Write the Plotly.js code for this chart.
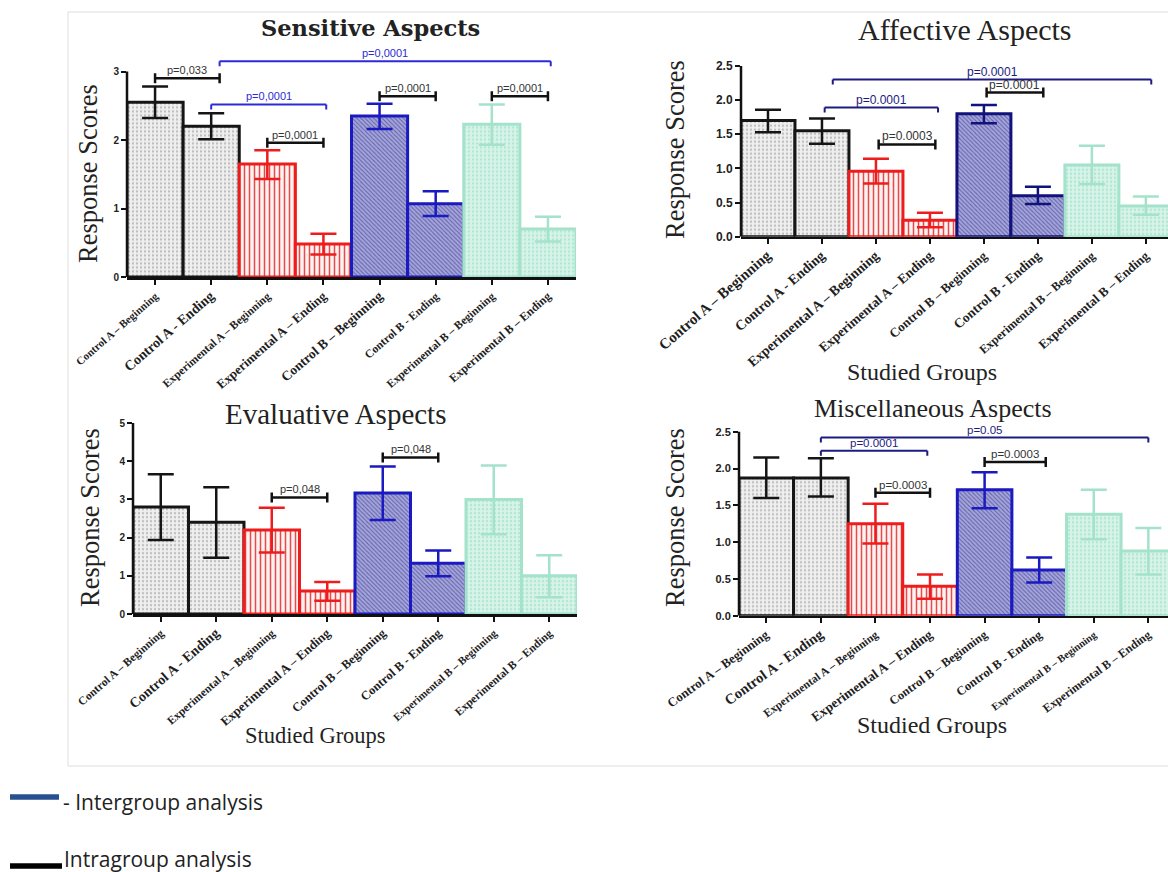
<!DOCTYPE html>
<html><head><meta charset="utf-8">
<script src="https://cdn.plot.ly/plotly-3.0.1.min.js"></script>
<style>body{margin:0;background:#fff}#chart{width:1168px;height:872px}</style>
</head><body><div id="chart"></div>
<script>
// ---------------- DATA ----------------
const categories = ["Control A – Beginning","Control A - Ending","Experimental A – Beginning","Experimental A – Ending","Control B – Beginning","Control B - Ending","Experimental B – Beginning","Experimental B – Ending"];

const sensitiveMeans = [2.55,2.20,1.65,0.48,2.35,1.07,2.23,0.70];
const sensitiveUpper = [2.78,2.39,1.85,0.63,2.53,1.25,2.52,0.88];
const sensitiveLower = [2.32,2.01,1.43,0.33,2.16,0.89,1.93,0.52];

const affectiveMeans = [1.70,1.55,0.96,0.24,1.80,0.60,1.05,0.45];
const affectiveUpper = [1.86,1.73,1.14,0.35,1.93,0.73,1.33,0.59];
const affectiveLower = [1.53,1.36,0.78,0.14,1.66,0.48,0.77,0.32];

const evaluativeMeans = [2.80,2.40,2.20,0.60,3.17,1.33,3.00,1.00];
const evaluativeUpper = [3.66,3.32,2.78,0.84,3.86,1.66,3.89,1.54];
const evaluativeLower = [1.94,1.47,1.61,0.35,2.46,0.99,2.09,0.44];

const miscMeans = [1.87,1.87,1.25,0.40,1.71,0.62,1.38,0.88];
const miscUpper = [2.15,2.14,1.52,0.56,1.95,0.79,1.71,1.19];
const miscLower = [1.60,1.62,0.98,0.23,1.46,0.45,1.04,0.56];

// brackets: [fromIndex, toIndex, yValue, label, kind]
const sensitiveBrackets = [
  [0, 1.15, 2.90, "p=0,033", "intra"],
  [1.15, 7.05, 3.15, "p=0,0001", "inter"],
  [1, 3.05, 2.52, "p=0,0001", "inter"],
  [2, 3, 1.96, "p=0,0001", "intra"],
  [4, 5, 2.64, "p=0,0001", "intra"],
  [6, 7, 2.64, "p=0,0001", "intra"]
];
const affectiveBrackets = [
  [1.2, 7.1, 2.30, "p=0.0001", "inter"],
  [1.05, 3.15, 1.89, "p=0.0001", "inter"],
  [2.05, 3.1, 1.35, "p=0.0003", "intra"],
  [4.05, 5.1, 2.11, "p=0.0001", "intra"]
];
const evaluativeBrackets = [
  [2, 3, 3.05, "p=0,048", "intra"],
  [4, 5, 4.10, "p=0,048", "intra"]
];
const miscBrackets = [
  [1, 7, 2.42, "p=0.05", "inter"],
  [1, 2.95, 2.24, "p=0.0001", "inter"],
  [2, 3, 1.67, "p=0.0003", "intra"],
  [4, 5.12, 2.09, "p=0.0003", "intra"]
];

const panelTitles = ["Sensitive Aspects","Affective Aspects","Evaluative Aspects","Miscellaneous Aspects"];
const yTitle = "Response Scores";
const xTitle = "Studied Groups";
const legendLabels = ["- Intergroup analysis","Intragroup analysis"];

// ---------------- LAYOUT CONFIG ----------------
const W = 1168, H = 872;
const px = x => x / W, py = y => 1 - y / H;

const tickSizes = [
  [11,14,11.5,13,13.5,11.5,11.5,12],
  [15,14,14,13.5,13,13.5,12.3,13],
  [11.5,14,11.5,13,12.5,12.5,11,11.5],
  [12.8,14.5,11.5,13.5,12.3,12.5,10.5,12]
];

const serif = 'Liberation Serif, Times New Roman, serif';
const sans = 'Liberation Sans, Arial, sans-serif';

const panels = [
  {means:sensitiveMeans, up:sensitiveUpper, lo:sensitiveLower, br:sensitiveBrackets,
   xpx:[127,576], xr:[-0.5,7.5], y0:277, unit:68.5, ytop:3.38, dtick:1, topTick:3, fmt:'d', tfs:10, angle:-41, pfs:11,
   blue:'#2b2bd6', cb:'#1a1ac0',
   title:{x:370,y:28,size:22.5,bold:true,family:'DejaVu Serif'}, ytl:{x:88,y:174,size:26.5}, xtl:null},
  {means:affectiveMeans, up:affectiveUpper, lo:affectiveLower, br:affectiveBrackets,
   xpx:[741,1168], xr:[-0.5,7.41], y0:236.7, unit:68.3, ytop:2.65, dtick:0.5, topTick:2.5, fmt:'.1f', tfs:12, angle:-41, pfs:12,
   blue:'#1c1c80', cb:'#12127c',
   title:{x:965,y:30,size:30,bold:false,family:serif}, ytl:{x:675,y:150,size:26.5}, xtl:{x:922,y:372,size:24}},
  {means:evaluativeMeans, up:evaluativeUpper, lo:evaluativeLower, br:evaluativeBrackets,
   xpx:[133,577], xr:[-0.5,7.5], y0:614, unit:38.2, ytop:5.1, dtick:1, topTick:5, fmt:'d', tfs:10, angle:-41, pfs:11,
   blue:'#1c1c80', cb:'#1a1ac0',
   title:{x:335,y:414,size:29,bold:false,family:serif}, ytl:{x:90,y:518,size:26.5}, xtl:{x:315,y:735,size:22.5}},
  {means:miscMeans, up:miscUpper, lo:miscLower, br:miscBrackets,
   xpx:[739,1168], xr:[-0.5,7.36], y0:615.7, unit:73.6, ytop:2.6, dtick:0.5, topTick:2.5, fmt:'.1f', tfs:11, angle:-36, pfs:11.5,
   blue:'#1c1c80', cb:'#1a1ac0',
   title:{x:933,y:408,size:26,bold:false,family:serif}, ytl:{x:675,y:518,size:26.5}, xtl:{x:932,y:725,size:24}}
];

const groupStyles = [
  {idx:[0,1], line:'#151515', pattern:{shape:'.', fgcolor:'#bdbdbd', bgcolor:'#efefef', size:4, solidity:0.25}},
  {idx:[2,3], line:'#ee1c1c', pattern:{shape:'|', fgcolor:'#e84a4a', bgcolor:'#fdf2f2', size:5, solidity:0.3}},
  {idx:[4,5], line:null,      pattern:{shape:'\\', fgcolor:'#6464ac', bgcolor:'#a6a6dc', size:3, solidity:0.35}},
  {idx:[6,7], line:'#a4e2cb', pattern:{shape:'.', fgcolor:'#b2e7d3', bgcolor:'#d8f4ea', size:4, solidity:0.3}}
];

const data = [];
const layout = {
  width: W, height: H, margin:{l:0,r:0,t:0,b:0},
  paper_bgcolor:'#ffffff', plot_bgcolor:'rgba(0,0,0,0)',
  showlegend:false, barmode:'overlay',
  shapes:[], annotations:[]
};

// outer frame
layout.shapes.push({type:'rect', xref:'paper', yref:'paper', x0:px(68), x1:px(1180), y0:py(766), y1:py(12),
  line:{color:'#dedede', width:1}, fillcolor:'rgba(0,0,0,0)'});

panels.forEach((p, i) => {
  const n = i === 0 ? '' : String(i + 1);
  const xa = 'x' + n, ya = 'y' + n;
  const ytopPx = p.y0 - p.ytop * p.unit;
  layout['xaxis' + n] = {
    domain:[px(p.xpx[0]), px(p.xpx[1])], range:p.xr, anchor:ya,
    tickmode:'array', tickvals:categories.map((c, k) => k),
    ticktext:categories.map((c, k) => '<span style="font-size:' + tickSizes[i][k] + 'px;color:#1e1e1e">' + c + '</span>'),
    tickangle:p.angle, tickfont:{family:serif, size:12, color:'#1e1e1e', weight:'bold'},
    ticks:'outside', ticklen:5, tickwidth:2, tickcolor:'#111',
    showline:true, linecolor:'#111', linewidth:2.5, showgrid:false, zeroline:false, fixedrange:true
  };
  layout['yaxis' + n] = {
    domain:[py(p.y0), py(ytopPx)], range:[0, p.ytop], anchor:xa,
    tickmode:'linear', tick0:0, dtick:p.dtick, tickformat:p.fmt,
    tickfont:{family:sans, size:p.tfs, color:'#222', weight:'bold'},
    ticks:'outside', ticklen:5, tickwidth:2, tickcolor:'#111',
    showline:false, showgrid:false, zeroline:false, fixedrange:true
  };
  // y-axis line up to the top tick only
  layout.shapes.push({type:'line', xref:xa + ' domain', yref:ya, x0:0, x1:0, y0:0, y1:p.topTick,
    line:{color:'#111', width:2.5}});

  groupStyles.forEach(g => {
    const lineColor = g.line || p.cb;
    data.push({
      type:'bar', xaxis:xa, yaxis:ya,
      x:g.idx, y:g.idx.map(k => p.means[k]), width:1,
      marker:{color:g.pattern.bgcolor, pattern:g.pattern, line:{color:lineColor, width:3}},
      error_y:{type:'data', symmetric:false,
        array:g.idx.map(k => p.up[k] - p.means[k]),
        arrayminus:g.idx.map(k => p.means[k] - p.lo[k]),
        color:lineColor, thickness:2.5, width:13},
      hoverinfo:'skip'
    });
  });

  // brackets
  p.br.forEach(b => {
    const [x0, x1, yv, label, kind] = b;
    const col = kind === 'inter' ? p.blue : '#111';
    const lw = kind === 'inter' ? 2 : 2.5;
    layout.shapes.push({type:'line', xref:xa, yref:ya, x0:x0, x1:x1, y0:yv, y1:yv, line:{color:col, width:lw}});
    [x0, x1].forEach(xe => {
      if (kind === 'inter') {
        layout.shapes.push({type:'line', xref:xa, yref:ya, ysizemode:'pixel', yanchor:yv,
          x0:xe, x1:xe, y0:0, y1:-5, line:{color:col, width:lw}});
      } else {
        layout.shapes.push({type:'line', xref:xa, yref:ya, ysizemode:'pixel', yanchor:yv,
          x0:xe, x1:xe, y0:-5, y1:5, line:{color:col, width:lw}});
      }
    });
    layout.annotations.push({xref:xa, yref:ya, x:(x0 + x1) / 2, y:yv, yshift:8, showarrow:false,
      text:label, font:{family:sans, size:p.pfs, color: kind === 'inter' ? p.blue : '#333'}});
  });

  // titles
  layout.annotations.push({xref:'paper', yref:'paper', x:px(p.title.x), y:py(p.title.y), showarrow:false,
    text: p.title.bold ? '<b>' + panelTitles[i] + '</b>' : panelTitles[i],
    font:{family:p.title.family, size:p.title.size, color:'#222'}, xanchor:'center', yanchor:'middle'});
  layout.annotations.push({xref:'paper', yref:'paper', x:px(p.ytl.x), y:py(p.ytl.y), showarrow:false,
    text:yTitle, textangle:-90, font:{family:serif, size:p.ytl.size, color:'#222'}, xanchor:'center', yanchor:'middle'});
  if (p.xtl) {
    layout.annotations.push({xref:'paper', yref:'paper', x:px(p.xtl.x), y:py(p.xtl.y), showarrow:false,
      text:xTitle, font:{family:serif, size:p.xtl.size, color:'#222'}, xanchor:'center', yanchor:'middle'});
  }
});

// legend (drawn)
layout.shapes.push({type:'line', xref:'paper', yref:'paper', x0:px(10), x1:px(59), y0:py(797), y1:py(797),
  line:{color:'#26508f', width:5.5}});
layout.shapes.push({type:'line', xref:'paper', yref:'paper', x0:px(10), x1:px(62), y0:py(866), y1:py(866),
  line:{color:'#000', width:5.5}});
layout.annotations.push({xref:'paper', yref:'paper', x:px(61), y:py(802), xanchor:'left', yanchor:'middle',
  showarrow:false, text:legendLabels[0], font:{family:'Open Sans', size:21, color:'#222'}});
layout.annotations.push({xref:'paper', yref:'paper', x:px(62), y:py(859), xanchor:'left', yanchor:'middle',
  showarrow:false, text:legendLabels[1], font:{family:'Open Sans', size:21, color:'#222'}});

Plotly.newPlot('chart', data, layout, {staticPlot:true, displayModeBar:false});
</script>
</body></html>
